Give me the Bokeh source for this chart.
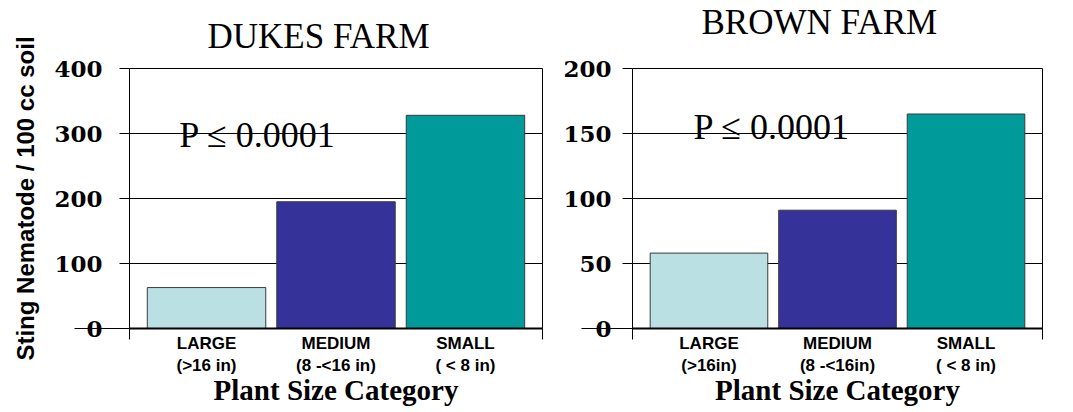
from bokeh.plotting import figure
from bokeh.layouts import row
from bokeh.models import Range1d, FixedTicker, Label, ColumnDataSource, Title
from bokeh.embed import file_html
from bokeh.resources import INLINE

# ---- data ----
categories = ["LARGE", "MEDIUM", "SMALL"]
dukes_sizes = ["(>16 in)", "(8 -<16 in)", "( < 8 in)"]
brown_sizes = ["(>16in)", "(8 -<16in)", "( < 8 in)"]
dukes_values = [63, 195, 328]
brown_values = [58, 91, 165]
dukes_ticks = [0, 100, 200, 300, 400]
brown_ticks = [0, 50, 100, 150, 200]
bar_colors = ["#BAE0E3", "#353399", "#009A9A"]
dukes_title = "DUKES FARM"
brown_title = "BROWN FARM"
p_text = "P \u2264 0.0001"
y_label = "Sting Nematode / 100 cc soil"
x_label = "Plant Size Category"

SERIF = "Liberation Serif"
TICK_SERIF = "DejaVu Serif"
SANS = "Liberation Sans"


def make_panel(title, values, sizes, ticks, width, b_left, b_right, title_offset,
               title_standoff, title_lh, p_pos, zero_tick_len, label_standoff,
               ylabel=None):
    xs = list(range(1, len(categories) + 1))
    p = figure(width=width, height=412, output_backend="svg", toolbar_location=None,
               x_range=Range1d(0.405, len(categories) + 0.595),
               y_range=Range1d(0, ticks[-1]),
               min_border_left=b_left, min_border_right=b_right,
               min_border_top=68, min_border_bottom=84)
    p.background_fill_color = "white"
    p.border_fill_color = "white"
    p.outline_line_color = "black"
    p.outline_line_width = 1

    src = ColumnDataSource(dict(x=xs, top=values, color=bar_colors))
    p.vbar(x="x", top="top", width=0.915, bottom=0, fill_color="color",
           line_color="#3a3a3a", line_width=1, source=src)

    # title
    p.title.text = title
    p.title.text_font = SERIF
    p.title.text_font_style = "normal"
    p.title.text_font_size = "35px"
    p.title.text_color = "black"
    p.title.align = "left"
    p.title.offset = title_offset
    p.title.standoff = title_standoff
    p.title.text_line_height = title_lh

    # grid
    p.xgrid.visible = False
    p.ygrid.grid_line_color = "black"
    p.ygrid.grid_line_width = 1
    p.ygrid.grid_line_alpha = 1

    # y axis: long tick at zero drawn as a minor tick
    ya = p.yaxis[0]
    ya.ticker = FixedTicker(ticks=ticks, minor_ticks=[ticks[0]])
    ya.major_tick_in = 0
    ya.major_tick_out = 10
    ya.minor_tick_in = 0
    ya.minor_tick_out = zero_tick_len
    ya.major_tick_line_color = "black"
    ya.minor_tick_line_color = "black"
    ya.axis_line_color = "black"
    ya.major_label_standoff = label_standoff - zero_tick_len
    ya.major_label_text_font = TICK_SERIF
    ya.major_label_text_font_style = "bold"
    ya.major_label_text_font_size = "23px"
    ya.major_label_text_color = "black"
    if ylabel:
        yt = Title(text=ylabel, align="center", vertical_align="top",
                   text_font=SANS, text_font_style="bold", text_font_size="24px",
                   text_color="black", standoff=22)
        p.add_layout(yt, "left")

    # x axis
    xa = p.xaxis[0]
    xa.ticker = FixedTicker(ticks=xs, minor_ticks=[0.4065, len(categories) + 0.5935])
    xa.major_label_overrides = {x: f"{c}\n{s}" for x, c, s in zip(xs, categories, sizes)}
    xa.major_tick_in = 0
    xa.major_tick_out = 0
    xa.minor_tick_in = 0
    xa.minor_tick_out = 11
    xa.minor_tick_line_color = "black"
    xa.axis_line_color = "black"
    xa.axis_line_width = 2
    xa.major_label_standoff = -6
    xa.major_label_text_font = SANS
    xa.major_label_text_font_style = "bold"
    xa.major_label_text_font_size = "17px"
    xa.major_label_text_color = "black"
    xa.axis_label = x_label
    xa.axis_label_text_font = SERIF
    xa.axis_label_text_font_style = "bold"
    xa.axis_label_text_font_size = "29px"
    xa.axis_label_text_color = "black"
    xa.axis_label_standoff = -4

    lbl = Label(x=p_pos[0], y=p_pos[1], text=p_text, text_font=SERIF,
                text_font_style="normal", text_font_size="36px", text_color="black",
                text_baseline="alphabetic", text_align="left")
    p.add_layout(lbl)
    return p


p1 = make_panel(dukes_title, dukes_values, dukes_sizes, dukes_ticks, width=560,
                b_left=127, b_right=18, title_offset=78, title_standoff=26, title_lh=1.0,
                p_pos=(0.79, 297), zero_tick_len=55, label_standoff=27, ylabel=y_label)
p2 = make_panel(brown_title + "\n", brown_values, brown_sizes, brown_ticks, width=513,
                b_left=69, b_right=31, title_offset=69, title_standoff=0, title_lh=0.69,
                p_pos=(0.88, 155), zero_tick_len=51, label_standoff=21)

layout = row(p1, p2)
open("out.html", "w").write(file_html(layout, INLINE))
